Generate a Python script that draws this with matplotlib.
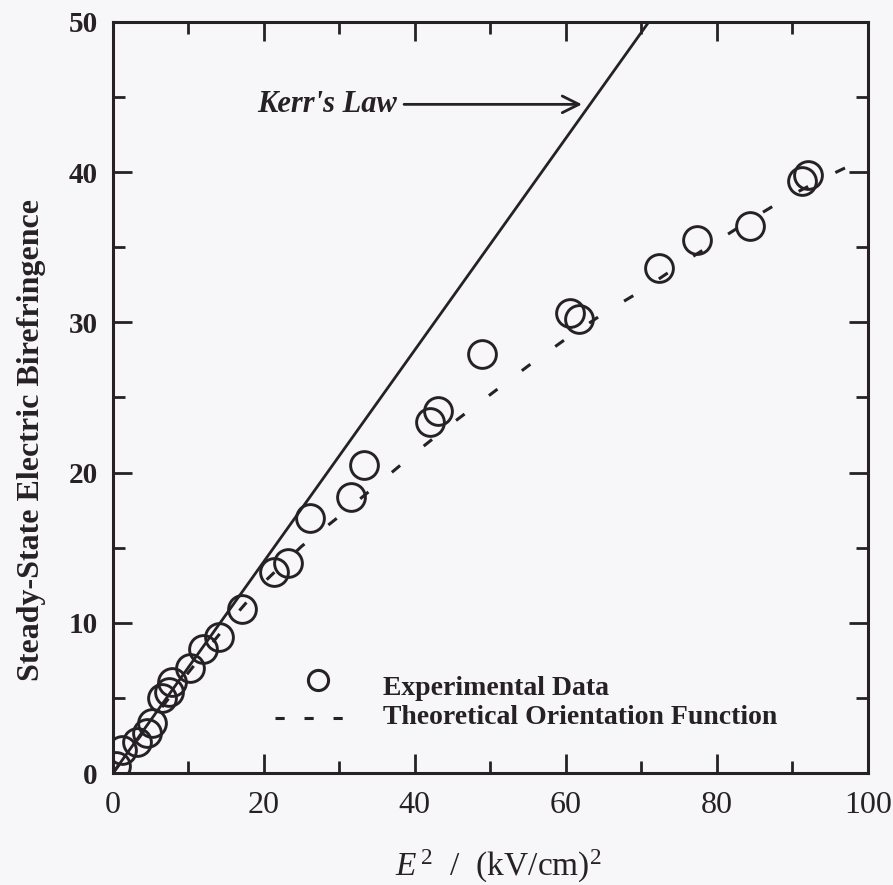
import numpy as np
import matplotlib
matplotlib.use("Agg")
import matplotlib.pyplot as plt
from matplotlib.ticker import MultipleLocator

# Experimental points, E^2 in (kV/cm)^2
exp_x = [0.4, 1.2, 3.2, 4.5, 5.2, 6.5, 7.4, 7.8, 10.2, 12.0, 14.0, 17.1, 21.3, 23.2,
         26.1, 31.6, 33.2, 42.0, 43.1, 48.9, 60.5, 61.7, 72.3, 77.4, 84.4, 91.2, 92.1]
exp_y = [0.5, 1.55, 2.1, 2.7, 3.35, 5.0, 5.4, 6.1, 7.0, 8.3, 9.1, 10.9, 13.4, 14.0,
         17.0, 18.4, 20.5, 23.4, 24.1, 27.9, 30.6, 30.2, 33.6, 35.5, 36.4, 39.4, 39.8]

# Theoretical orientation function (dashed curve), read at a few points
theo_x = [0, 5, 10, 15, 20, 25, 30, 35, 40, 45, 50, 55, 60, 65, 70, 75, 80, 85, 90, 95, 100]
theo_y = [0, 3.4, 6.7, 9.8, 12.7, 15.1, 17.1, 19.2, 21.3, 23.3, 25.2, 27.1, 28.9,
          30.6, 32.1, 33.8, 35.4, 37.0, 38.5, 39.8, 41.0]

# Kerr's law straight line
kerr_x = [0, 71]
kerr_y = [0, 50]

ink = '#262125'
bg = '#f7f6f9'

plt.rcParams['font.family'] = ['Liberation Serif', 'DejaVu Serif']
plt.rcParams['mathtext.fontset'] = 'custom'
plt.rcParams['mathtext.rm'] = 'Liberation Serif'
plt.rcParams['mathtext.it'] = 'Liberation Serif:italic'

fig = plt.figure(figsize=(8.93, 8.85), dpi=100, facecolor=bg)
ax = fig.add_axes([0.1263, 0.1262, 0.8457, 0.8493], facecolor=bg)

ax.plot(kerr_x, kerr_y, color=ink, lw=2.0, solid_capstyle='butt')
ax.plot(theo_x, theo_y, color=ink, lw=2.2, dashes=(3.5, 10), dash_capstyle='butt')
ax.plot(exp_x, exp_y, 'o', ms=20, mfc='none', mec=ink, mew=2.1)

ax.set_xlim(0, 100)
ax.set_ylim(0, 50)
ax.xaxis.set_major_locator(MultipleLocator(20))
ax.xaxis.set_minor_locator(MultipleLocator(10))
ax.yaxis.set_major_locator(MultipleLocator(10))
ax.yaxis.set_minor_locator(MultipleLocator(5))
ax.tick_params(which='both', direction='in', top=True, right=True, color=ink, width=2.0)
ax.tick_params(which='major', length=14)
ax.tick_params(which='minor', length=8.5)
ax.tick_params(axis='x', labelsize=23, pad=13, labelcolor=ink)
ax.tick_params(axis='y', labelsize=21, pad=11, labelcolor=ink)
for lab in ax.get_yticklabels():
    lab.set_fontweight('bold')
for s in ax.spines.values():
    s.set_linewidth(2.2)
    s.set_color(ink)

ax.set_ylabel('Steady-State Electric Birefringence', fontsize=23, fontweight='bold',
              color=ink, va='center')
ax.yaxis.set_label_coords(-0.108, 0.443)
ax.set_xlabel(r'$\mathit{E}^{\,2}$  /  (kV/cm)$^2$', fontsize=24, color=ink, va='center')
ax.xaxis.set_label_coords(0.51, -0.124)

# Kerr's law annotation
ax.annotate('', xy=(62.5, 44.5), xytext=(38.2, 44.5),
            arrowprops=dict(arrowstyle='->', color=ink, lw=2.0, mutation_scale=30))
ax.text(37.6, 44.5, "Kerr's Law", fontsize=22, style='italic', fontweight='bold',
        color=ink, ha='right', va='center')

# legend drawn by hand
ax.plot([0.2717], [0.124], 'o', ms=14.5, mfc='none', mec=ink, mew=2.2,
        transform=ax.transAxes)
ax.plot([0.2148, 0.327], [0.0736, 0.0736], color=ink, lw=2.2, dashes=(3, 6.5),
        transform=ax.transAxes)
ax.text(0.358, 0.1135, 'Experimental Data', fontsize=20, fontweight='bold', color=ink,
        transform=ax.transAxes, va='center')
ax.text(0.358, 0.0736, 'Theoretical Orientation Function', fontsize=20, fontweight='bold',
        color=ink, transform=ax.transAxes, va='center')

fig.savefig('out.png', dpi=100, facecolor=bg)
